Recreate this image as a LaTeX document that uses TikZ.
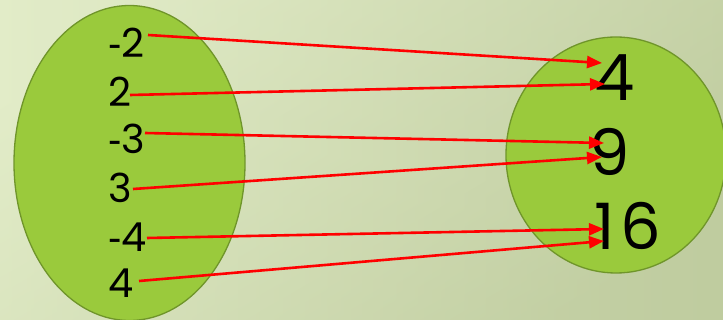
\documentclass[tikz,border=0pt]{standalone}
\usepackage{fontspec}
\setmainfont{Poppins}
\newfontfamily\dashfont{Liberation Sans}
\newcommand{\mydash}{{\dashfont -}}
\usetikzlibrary{arrows.meta}
\definecolor{bgA}{HTML}{E2ECC8}
\definecolor{bgB}{HTML}{BFCC9F}
\definecolor{setfill}{HTML}{9ACA3C}
\definecolor{setline}{HTML}{6F952A}
\tikzset{
  setshape/.style={fill=setfill, draw=setline, line width=1.3pt},
  lbl/.style={inner sep=0pt, anchor=west, font=\fontsize{40}{40}\selectfont},
  rlbl/.style={inner sep=0pt, anchor=west, font=\fontsize{64}{64}\selectfont},
  maparrow/.style={draw=red, line width=2.6pt, -{Triangle[length=15pt,width=12pt]}}
}
\begin{document}
\begin{tikzpicture}[x=1pt,y=-1pt]
\useasboundingbox (0,0) rectangle (723,320);
\shade[top color=bgA, bottom color=bgB, shading angle=30] (0,0) rectangle (723,320);
\shade[left color=bgA, right color=bgB, opacity=0.5] (0,0) rectangle (723,320);
\begin{scope}
\clip (0,0) rectangle (723,320);
\draw[setshape] (129.5,163) ellipse [x radius=115.5, y radius=157.5];
\draw[setshape] (616,155) ellipse [x radius=110, y radius=118];
\end{scope}
% left labels
\node[lbl] (m2) at (108,43) {\mydash2};
\node[lbl] (p2) at (108,92) {2};
\node[lbl] (m3) at (108,139) {\mydash3};
\node[lbl] (p3) at (108,188) {3};
\node[lbl] (m4) at (108,237) {\mydash4};
\node[lbl] (p4) at (108,283) {4};
% right labels
\node[rlbl] (q4) at (594,78) {4};
\node[rlbl] (q9) at (589,152) {9};
\node[rlbl] (q16) at (594,226) {1\kern6pt6};
% arrow endpoints
\coordinate (sm2) at (148,35);
\coordinate (sp2) at (130,95);
\coordinate (sm3) at (145,133);
\coordinate (sp3) at (133,189);
\coordinate (sm4) at (147,238);
\coordinate (sp4) at (139,281);
\coordinate (e1) at (602,63);
\coordinate (e2) at (605,84);
\coordinate (e3) at (604,143);
\coordinate (e4) at (602,157);
\coordinate (e5) at (604,229);
\coordinate (e6) at (604,241);
\draw[maparrow] (sm2) -- (e1);
\draw[maparrow] (sp2) -- (e2);
\draw[maparrow] (sm3) -- (e3);
\draw[maparrow] (sp3) -- (e4);
\draw[maparrow] (sm4) -- (e5);
\draw[maparrow] (sp4) -- (e6);
\end{tikzpicture}
\end{document}
